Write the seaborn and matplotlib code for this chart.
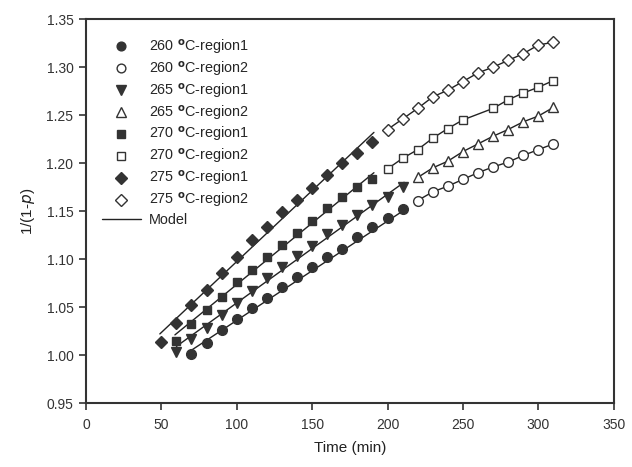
import matplotlib
matplotlib.use("Agg")
import matplotlib.pyplot as plt
import seaborn as sns
import pandas as pd
import numpy as np
from matplotlib.lines import Line2D

sns.set_theme(style="white")
plt.rcParams['font.family'] = ['Liberation Sans', 'DejaVu Sans']

# ---- data ----
t260_r1 = [70, 80, 90, 100, 110, 120, 130, 140, 150, 160, 170, 180, 190, 200, 210]
y260_r1 = [1.001, 1.013, 1.026, 1.038, 1.049, 1.059, 1.071, 1.081, 1.092, 1.102, 1.111, 1.123, 1.133, 1.143, 1.152]
t260_r2 = [220, 230, 240, 250, 260, 270, 280, 290, 300, 310]
y260_r2 = [1.161, 1.170, 1.176, 1.183, 1.190, 1.196, 1.201, 1.208, 1.214, 1.220]

t265_r1 = [60, 70, 80, 90, 100, 110, 120, 130, 140, 150, 160, 170, 180, 190, 200, 210]
y265_r1 = [1.003, 1.017, 1.028, 1.042, 1.054, 1.067, 1.080, 1.092, 1.103, 1.114, 1.126, 1.136, 1.146, 1.156, 1.165, 1.175]
t265_r2 = [220, 230, 240, 250, 260, 270, 280, 290, 300, 310]
y265_r2 = [1.185, 1.195, 1.202, 1.212, 1.220, 1.228, 1.235, 1.243, 1.249, 1.258]

t270_r1 = [60, 70, 80, 90, 100, 110, 120, 130, 140, 150, 160, 170, 180, 190]
y270_r1 = [1.015, 1.032, 1.047, 1.060, 1.076, 1.089, 1.102, 1.115, 1.127, 1.140, 1.153, 1.165, 1.175, 1.183]
t270_r2 = [200, 210, 220, 230, 240, 250, 270, 280, 290, 300, 310]
y270_r2 = [1.194, 1.205, 1.214, 1.226, 1.236, 1.245, 1.257, 1.266, 1.273, 1.279, 1.286]

t275_r1 = [50, 60, 70, 80, 90, 100, 110, 120, 130, 140, 150, 160, 170, 180, 190]
y275_r1 = [1.014, 1.033, 1.052, 1.068, 1.086, 1.102, 1.120, 1.133, 1.149, 1.162, 1.174, 1.188, 1.200, 1.211, 1.222]
t275_r2 = [200, 210, 220, 230, 240, 250, 260, 270, 280, 290, 300, 310]
y275_r2 = [1.235, 1.246, 1.257, 1.269, 1.276, 1.285, 1.294, 1.300, 1.307, 1.314, 1.323, 1.326]

# model lines for region 1 (end points)
model_r1_t = {"260": [68, 212], "265": [60, 211], "270": [59, 191], "275": [49, 191]}
model_r1_y = {"260": [1.003, 1.152], "265": [1.009, 1.180], "270": [1.021, 1.190], "275": [1.022, 1.232]}

temps = ["260", "265", "270", "275"]
r1 = {"260": (t260_r1, y260_r1), "265": (t265_r1, y265_r1), "270": (t270_r1, y270_r1), "275": (t275_r1, y275_r1)}
r2 = {"260": (t260_r2, y260_r2), "265": (t265_r2, y265_r2), "270": (t270_r2, y270_r2), "275": (t275_r2, y275_r2)}
markers = {"260": "o", "265": "v", "270": "s", "275": "D"}
msize = {"260": 7, "265": 7.5, "270": 6.3, "275": 6.3}
tri2 = {"265": "^"}

fig = plt.figure(figsize=(6.32, 4.67), dpi=100)
ax = fig.add_axes([0.136, 0.137, 0.835, 0.822])

dark = "#333333"
for T in temps:
    sns.lineplot(x=model_r1_t[T], y=model_r1_y[T], ax=ax, color="#222222", lw=1.0, zorder=2)
    t2, y2 = r2[T]
    sns.lineplot(x=t2, y=y2, ax=ax, color="#222222", lw=1.0, zorder=2)

handles = []
for T in temps:
    t1, y1 = r1[T]
    t2, y2 = r2[T]
    m1 = markers[T]
    m2 = tri2.get(T, m1)
    h1, = ax.plot(t1, y1, ls="none", marker=m1, ms=msize[T], mfc=dark, mec=dark, mew=1.0, zorder=3)
    h2, = ax.plot(t2, y2, ls="none", marker=m2, ms=msize[T], mfc="white", mec=dark, mew=1.0, zorder=3)
    handles.append((h1, f"{T} $^{{\\mathbf{{o}}}}$C-region1"))
    handles.append((h2, f"{T} $^{{\\mathbf{{o}}}}$C-region2"))

hm = Line2D([], [], color="#222222", lw=1.0)
handles.append((hm, "Model"))

leg = ax.legend([h for h, _ in handles], [l for _, l in handles], loc="upper left",
                bbox_to_anchor=(0.005, 0.985), frameon=False, fontsize=10.4,
                handlelength=2.7, handletextpad=0.55, labelspacing=0.2, borderaxespad=0.5,
                markerscale=0.9)

ax.set_xlim(0, 350)
ax.set_ylim(0.95, 1.35)
ax.set_xticks(np.arange(0, 351, 50))
yt = np.arange(0.95, 1.351, 0.05)
ax.set_yticks(yt)
ax.set_yticklabels([f"{v:.2f}" for v in yt])
ax.tick_params(axis="both", which="both", direction="out", length=5, width=1.2,
               colors="#333333", labelsize=10, left=True, bottom=True)
ax.tick_params(axis="x", pad=6)
ax.tick_params(axis="y", pad=4)
for s in ax.spines.values():
    s.set_visible(True)
    s.set_color("#333333")
    s.set_linewidth(1.5)
ax.set_xlabel("Time (min)", fontsize=11, color="#222222", labelpad=6)
ax.set_ylabel("1/(1-$\\it{p}$)", fontsize=11, color="#222222", labelpad=7)
for lab in ax.get_xticklabels() + ax.get_yticklabels():
    lab.set_color("#333333")

fig.savefig("out.png", dpi=100)
